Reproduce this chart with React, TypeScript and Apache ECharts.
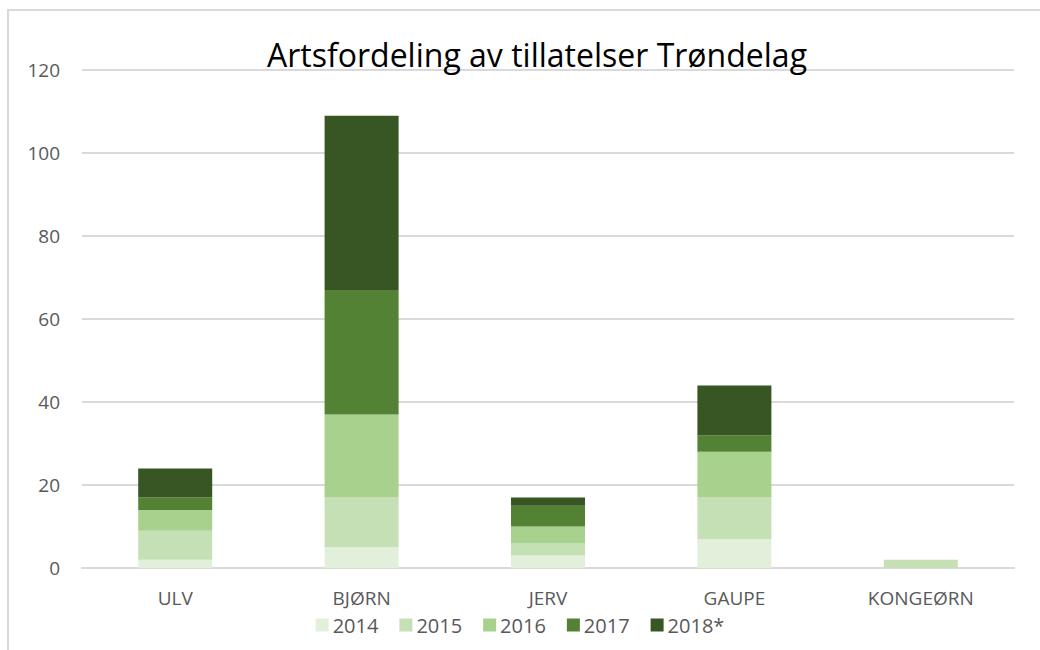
import React, { useEffect, useRef } from "react";
import * as echarts from "echarts";

const categories = ["ULV", "BJØRN", "JERV", "GAUPE", "KONGEØRN"];
const seriesNames = ["2014", "2015", "2016", "2017", "2018*"];
const v2014 = [2, 5, 3, 7, 0];
const v2015 = [7, 12, 3, 10, 2];
const v2016 = [5, 20, 4, 11, 0];
const v2017 = [3, 30, 5, 4, 0];
const v2018 = [7, 42, 2, 12, 0];
const seriesValues = [v2014, v2015, v2016, v2017, v2018];
const colors = ["#e2efda", "#c5e0b4", "#a9d18e", "#548235", "#375623"];

const FONT = "'Open Sans', Lato, sans-serif";

export default function App() {
  const ref = useRef<HTMLDivElement>(null);
  useEffect(() => {
    if (!ref.current) return;
    const chart = echarts.init(ref.current, null, { renderer: "svg" });
    chart.setOption({
      animation: false,
      backgroundColor: "#ffffff",
      textStyle: { fontFamily: FONT },
      title: {
        text: "Artsfordeling av tillatelser Trøndelag",
        left: 532,
        textAlign: "center",
        top: 33,
        textStyle: { fontSize: 32, fontWeight: "normal", color: "#000000", fontFamily: FONT },
      },
      graphic: [
        {
          type: "rect",
          shape: { x: 8, y: 10, width: 1100, height: 700 },
          style: { fill: "none", stroke: "#d9d9d9", lineWidth: 2 },
          silent: true,
          z: -1,
        },
      ],
      legend: {
        data: seriesNames,
        left: "center",
        top: 610,
        itemWidth: 13,
        itemHeight: 13,
        itemGap: 21,
        icon: "rect",
        textStyle: { fontSize: 20, color: "#595959", fontFamily: FONT, padding: [0, 0, 0, -1] },
      },
      grid: { left: 82, right: 26, top: 70, bottom: 82 },
      xAxis: {
        type: "category",
        data: categories,
        axisLine: { lineStyle: { color: "#d9d9d9", width: 2 } },
        axisTick: { show: false },
        axisLabel: { fontSize: 19, color: "#595959", margin: 20, fontFamily: FONT },
      },
      yAxis: {
        type: "value",
        min: 0,
        max: 120,
        interval: 20,
        axisLine: { show: false },
        axisTick: { show: false },
        axisLabel: { fontSize: 19, color: "#595959", margin: 22, fontFamily: FONT },
        splitLine: { lineStyle: { color: "#d9d9d9", width: 2 } },
      },
      series: seriesNames.map((name, i) => ({
        name,
        type: "bar",
        stack: "total",
        barWidth: 74,
        data: seriesValues[i],
        itemStyle: { color: colors[i] },
      })),
    });
    return () => chart.dispose();
  }, []);
  return (
    <div
      ref={ref}
      style={{ position: "fixed", left: 0, top: 0, width: 1040, height: 650 }}
    />
  );
}
